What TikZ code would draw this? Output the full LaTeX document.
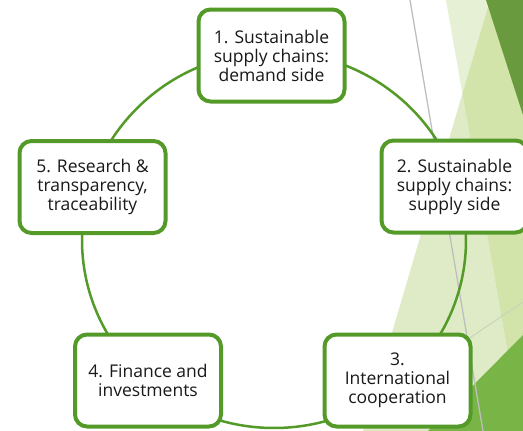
\documentclass[tikz,border=0pt]{standalone}
\usepackage{fontspec}
\setmainfont{Open Sans}
\definecolor{ringgreen}{RGB}{84,154,40}
\definecolor{paleA}{RGB}{229,240,213}
\definecolor{paleB}{RGB}{222,235,198}
\definecolor{limeAB}{RGB}{210,228,170}
\definecolor{facetdark}{RGB}{106,154,62}
\definecolor{facetmid}{RGB}{120,180,70}
\definecolor{facetline}{RGB}{190,190,190}
\definecolor{facetlineB}{RGB}{200,212,186}
\definecolor{inktext}{RGB}{25,25,25}
\tikzset{
  stagebox/.style={draw=ringgreen, line width=4pt, fill=white, rounded corners=12pt,
    minimum width=146pt, minimum height=92pt, inner sep=0pt, align=center,
    text=inktext, font=\fontsize{17.5}{19}\selectfont},
  ring/.style={draw=ringgreen, line width=2.5pt},
}
\begin{document}
\begin{tikzpicture}[x=1pt, y=-1pt]
  \useasboundingbox (0,0) rectangle (523,431);
  \clip (0,0) rectangle (523,431);
  % facet background on the right
  \fill[paleA] (446,0) -- (490,0) -- (462.4,93.7) -- cycle;
  \fill[paleB] (462.4,93.7) -- (363,431) -- (521.4,431) -- cycle;
  \fill[limeAB] (490,0) -- (523,0) -- (523,431) -- (521.4,431) -- (462.4,93.7) -- cycle;
  \fill[facetdark] (486,0) -- (523,0) -- (523,115) -- cycle;
  \fill[facetmid] (523,335) -- (523,431) -- (428,431) -- cycle;
  \draw[facetline, line width=1.3pt] (410,0) -- (483,431);
  \draw[facetlineB, line width=1pt] (523,302) -- (440,358);
  % ring joining the five stages
  \coordinate (ringc) at (274,240);
  \draw[ring] (ringc) ellipse [x radius=192, y radius=188];
  % stages
  \node[stagebox] (s1) at (271.5,55.5) {1. Sustainable\\supply chains:\\demand side};
  \node[stagebox] (s2) at (454.5,186.5) {2. Sustainable\\supply chains:\\supply side};
  \node[stagebox] (s3) at (397.5,380.5) {3.\\International\\cooperation};
  \node[stagebox] (s4) at (148,380.5) {4. Finance and\\investments};
  \node[stagebox] (s5) at (92.5,187) {5. Research \&\\transparency,\\traceability};
\end{tikzpicture}
\end{document}
